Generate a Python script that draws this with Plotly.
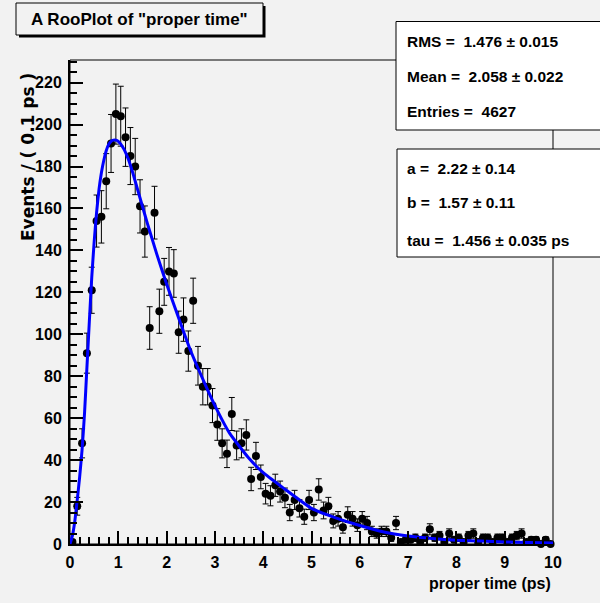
import numpy as np
import plotly.graph_objects as go

# ---------------- data ----------------
bin_centers = np.round(np.arange(0.05, 10.0, 0.1), 2)
counts = [
    1, 18, 48, 91, 121, 154, 156, 173, 191, 205,
    204, 194, 185, 180, 161, 149, 103, 158, 111, 125,
    130, 129, 101, 107, 92, 116, 85, 75, 75, 66,
    57, 48, 43, 62, 47, 48, 52, 31, 42, 32,
    24, 23, 28, 25, 22, 15, 21, 17, 13, 21,
    15, 26, 16, 18, 11, 12, 8, 14, 12, 9,
    12, 10, 6, 5, 6, 6, 3, 10, 1, 2,
    2, 3, 1, 3, 7, 3, 4, 1, 5, 2,
    3, 1, 4, 5, 1, 3, 3, 1, 3, 3,
    1, 3, 4, 5, 1, 2, 2, 0, 2, 0,
]
errors = np.sqrt(np.array(counts, dtype=float))

curve_t = [0.0, 0.05, 0.1, 0.15, 0.2, 0.25, 0.3, 0.35, 0.4, 0.45, 0.5, 0.55, 0.6,
           0.65, 0.7, 0.75, 0.8, 0.85, 0.9, 0.95, 1.0, 1.1, 1.2, 1.3, 1.4, 1.5,
           1.6, 1.7, 1.8, 2.0, 2.2, 2.5, 2.8, 3.0, 3.3, 3.7, 4.0, 4.4, 5.0, 5.5,
           6.0, 6.5, 7.0, 7.5, 8.0, 8.5, 9.0, 9.5, 10.0]
curve_y = [0.0, 4, 11, 21, 32, 45, 62, 84, 106, 127, 144, 158, 169,
           177, 183, 187.5, 190.5, 192, 192.6, 192.6, 192, 189, 184, 177, 169, 161,
           153, 145.5, 138, 124, 111, 92, 76, 66, 53, 41, 34, 27, 17, 12.5,
           8.8, 5.7, 3.8, 2.6, 1.8, 1.4, 1.0, 0.7, 0.5]

x_ticks = [0, 1, 2, 3, 4, 5, 6, 7, 8, 9, 10]
y_ticks = [0, 20, 40, 60, 80, 100, 120, 140, 160, 180, 200, 220]

title_text = 'A RooPlot of "proper time"'
stats_lines = ["RMS =\u00a0 1.476 \u00b1 0.015", "Mean =\u00a0 2.058 \u00b1 0.022", "Entries =\u00a0 4627"]
fit_lines = ["a =\u00a0 2.22 \u00b1 0.14", "b =\u00a0 1.57 \u00b1 0.11", "tau =\u00a0 1.456 \u00b1 0.035 ps"]

# ---------------- layout helpers (pixel -> paper) ----------------
W, H = 600, 603
ML, MR, MT, MB = 70, 47, 60, 59
PW, PH = W - ML - MR, H - MT - MB


def xp(px):
    return (px - ML) / PW


def yp(py):
    return (H - MB - py) / PH


BG = "#f2f2f2"
FONT = "Liberation Sans, Arial, Helvetica, sans-serif"

fig = go.Figure()

fig.add_trace(go.Scatter(
    x=bin_centers, y=counts, mode="markers",
    marker=dict(color="black", size=8, symbol="circle"),
    error_y=dict(type="data", array=errors, visible=True, color="black",
                 thickness=1, width=3),
    showlegend=False, cliponaxis=False,
))

fig.add_trace(go.Scatter(
    x=curve_t, y=curve_y, mode="lines",
    line=dict(color="#0000ff", width=3, shape="spline", smoothing=0.5),
    showlegend=False,
))

axis_common = dict(
    showgrid=False, zeroline=False, showline=True, linecolor="black", linewidth=2,
    ticks="inside", ticklen=13, tickwidth=2, tickcolor="black",
    tickfont=dict(family=FONT, size=16, color="black", weight="bold"),
    automargin=False,
)

fig.update_xaxes(
    range=[0, 10], tickvals=x_ticks, ticktext=[str(v) for v in x_ticks],
    minor=dict(dtick=0.2, ticks="inside", ticklen=7, tickwidth=2, tickcolor="black"),
    ticklabelstandoff=3,
    **axis_common,
)
fig.update_yaxes(
    range=[0, 230.8], tickvals=y_ticks, ticktext=[str(v) for v in y_ticks],
    minor=dict(dtick=5, ticks="inside", ticklen=7, tickwidth=2, tickcolor="black"),
    ticklabelstandoff=3,
    **axis_common,
)

shapes = []
# frame
shapes.append(dict(type="rect", xref="paper", yref="paper", x0=0, x1=1, y0=0, y1=1,
                   line=dict(color="black", width=1), layer="below"))
# title box with shadow
shapes.append(dict(type="rect", xref="paper", yref="paper",
                   x0=xp(19), x1=xp(265.5), y0=yp(37.5), y1=yp(6),
                   line=dict(width=0), fillcolor="black", layer="above"))
shapes.append(dict(type="rect", xref="paper", yref="paper",
                   x0=xp(16), x1=xp(263), y0=yp(35), y1=yp(3),
                   line=dict(color="black", width=1), fillcolor=BG, layer="above"))
# stats boxes
shapes.append(dict(type="rect", xref="paper", yref="paper",
                   x0=xp(396), x1=xp(620), y0=yp(130), y1=yp(21.5),
                   line=dict(color="black", width=1), fillcolor="white", layer="above"))
shapes.append(dict(type="rect", xref="paper", yref="paper",
                   x0=xp(397), x1=xp(620), y0=yp(257), y1=yp(149),
                   line=dict(color="black", width=1), fillcolor="white", layer="above"))

annotations = []
annotations.append(dict(text=title_text, xref="paper", yref="paper",
                        x=xp(139.5), y=yp(19.5), xanchor="center", yanchor="middle",
                        showarrow=False,
                        font=dict(family=FONT, size=17, color="black", weight="bold")))
for txt, py in zip(stats_lines, [41.7, 76.7, 111.7]):
    annotations.append(dict(text=txt, xref="paper", yref="paper",
                            x=xp(405), y=yp(py), xanchor="left", yanchor="middle",
                            showarrow=False,
                            font=dict(family=FONT, size=15.5, color="black", weight="bold")))
for txt, py in zip(fit_lines, [168.3, 202.3, 240.5]):
    annotations.append(dict(text=txt, xref="paper", yref="paper",
                            x=xp(405), y=yp(py), xanchor="left", yanchor="middle",
                            showarrow=False,
                            font=dict(family=FONT, size=15.5, color="black", weight="bold")))
annotations.append(dict(text="proper time (ps)", xref="paper", yref="paper",
                        x=xp(553), y=yp(583), xanchor="right", yanchor="middle",
                        showarrow=False,
                        font=dict(family=FONT, size=16, color="black", weight="bold")))
annotations.append(dict(text="Events / ( 0.1 ps )", xref="paper", yref="paper",
                        x=xp(28), y=yp(157), xanchor="center", yanchor="middle",
                        textangle=-90, showarrow=False,
                        font=dict(family="DejaVu Sans, sans-serif", size=17, color="black",
                                  weight="bold")))

fig.update_layout(
    width=W, height=H,
    margin=dict(l=ML, r=MR, t=MT, b=MB, pad=0),
    paper_bgcolor=BG, plot_bgcolor=BG,
    shapes=shapes, annotations=annotations,
    showlegend=False,
)

fig.write_html("out.html",
               config={"displayModeBar": False},
               post_script="document.body.style.margin='0px';"
                           "document.body.style.overflow='hidden';"
                           "document.body.style.background='" + BG + "';")
